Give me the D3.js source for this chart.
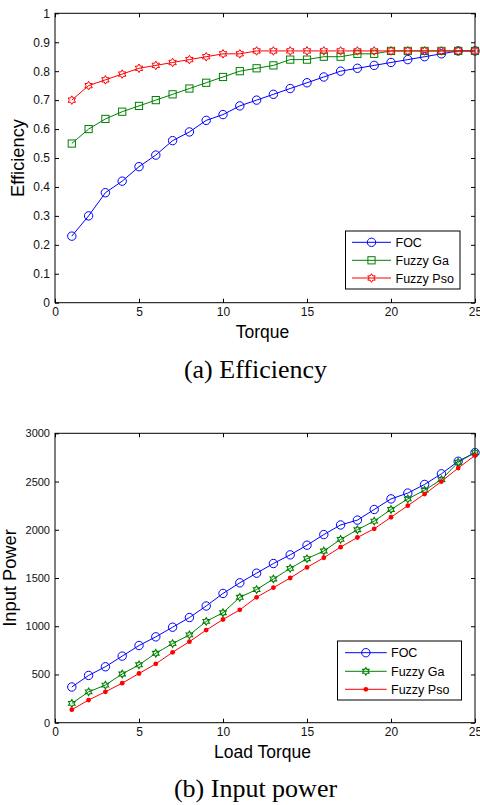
<!DOCTYPE html>
<html><head><meta charset="utf-8">
<script src="https://cdn.jsdelivr.net/npm/d3@7"></script>
<style>body{margin:0;background:#fff}svg{display:block}</style>
</head><body>
<script>
// ---------- data ----------
const torque = [1,2,3,4,5,6,7,8,9,10,11,12,13,14,15,16,17,18,19,20,21,22,23,24,25];
const effFOC = [0.23,0.30,0.38,0.42,0.47,0.51,0.56,0.59,0.63,0.65,0.68,0.70,0.72,0.74,0.76,0.78,0.80,0.81,0.82,0.83,0.84,0.85,0.86,0.87,0.87];
const effGA  = [0.55,0.60,0.635,0.66,0.68,0.70,0.72,0.74,0.76,0.78,0.80,0.81,0.82,0.84,0.84,0.85,0.85,0.86,0.86,0.87,0.87,0.87,0.87,0.87,0.87];
const effPSO = [0.70,0.75,0.77,0.79,0.81,0.82,0.83,0.84,0.85,0.86,0.86,0.87,0.87,0.87,0.87,0.87,0.87,0.87,0.87,0.87,0.87,0.87,0.87,0.87,0.87];
const powFOC = [370,490,580,690,800,890,990,1090,1210,1340,1450,1550,1650,1740,1840,1950,2050,2100,2210,2320,2380,2470,2580,2710,2800];
const powGA  = [200,320,390,505,600,720,820,910,1050,1140,1300,1380,1490,1600,1700,1780,1900,2000,2090,2210,2320,2410,2520,2700,2800];
const powPSO = [135,235,320,410,510,610,730,840,960,1070,1170,1300,1400,1500,1610,1710,1820,1920,2010,2130,2250,2370,2500,2640,2770];
const xTicks = [0,5,10,15,20,25];
const effTicks = [0,0.1,0.2,0.3,0.4,0.5,0.6,0.7,0.8,0.9,1];
const powTicks = [0,500,1000,1500,2000,2500,3000];
const seriesNames = ["FOC","Fuzzy Ga","Fuzzy Pso"];
const colors = ["#0000ff","#008000","#ff0000"];

// ---------- helpers ----------
const svg = d3.select("body").append("svg").attr("width",480).attr("height",805);
const FONT = "Liberation Sans, Arial, sans-serif";

function hexagramPath(R){
  const r = R/Math.sqrt(3);
  const pts = [];
  for(let i=0;i<12;i++){
    const a = -Math.PI/2 + i*Math.PI/6;
    const rad = i%2===0 ? R : r;
    pts.push([rad*Math.cos(a), rad*Math.sin(a)]);
  }
  return "M"+pts.map(p=>p[0].toFixed(2)+","+p[1].toFixed(2)).join("L")+"Z";
}
function drawMarker(g, type, color, x, y){
  if(type==="circle"){
    g.append("circle").attr("cx",x).attr("cy",y).attr("r",4.2).attr("fill","none").attr("stroke",color).attr("stroke-width",1);
  } else if(type==="square"){
    g.append("rect").attr("x",x-3.6).attr("y",y-3.6).attr("width",7.2).attr("height",7.2).attr("fill","none").attr("stroke",color).attr("stroke-width",1);
  } else if(type==="hex"){
    g.append("path").attr("transform",`translate(${x},${y})`).attr("d",hexagramPath(4.3)).attr("fill","none").attr("stroke",color).attr("stroke-width",1);
  } else if(type==="hexs"){
    g.append("path").attr("transform",`translate(${x},${y})`).attr("d",hexagramPath(3.8)).attr("fill","none").attr("stroke",color).attr("stroke-width",1.1);
  } else if(type==="dot"){
    g.append("circle").attr("cx",x).attr("cy",y).attr("r",2.4).attr("fill",color).attr("stroke","none");
  }
}

function panel(cfg){
  const {top,bottom,yDomain,yTicks,series,markers,xLabel,yLabel,yLabelX,caption,captionY,xLabelY,legend,yFmt,yTickFont} = cfg;
  const left=55, right=475;
  const x = d3.scaleLinear().domain([0,25]).range([left,right]);
  const y = d3.scaleLinear().domain(yDomain).range([bottom,top]);
  const g = svg.append("g");

  const styleAxis = (fs) => sel => {
    sel.selectAll("path.domain").remove();
    sel.selectAll("line").attr("stroke","#000");
    sel.selectAll("text").attr("font-family",FONT).attr("font-size",fs).attr("fill","#111");
  };
  g.append("g").attr("transform",`translate(0,${bottom})`)
    .call(d3.axisBottom(x).tickValues(xTicks).tickSize(-4).tickPadding(5).tickFormat(d3.format("d"))).call(styleAxis(12));
  g.append("g").attr("transform",`translate(0,${top})`)
    .call(d3.axisTop(x).tickValues(xTicks).tickSize(-4).tickFormat("")).call(styleAxis(12));
  g.append("g").attr("transform",`translate(${left},0)`)
    .call(d3.axisLeft(y).tickValues(yTicks).tickSize(-4).tickPadding(5).tickFormat(yFmt)).call(styleAxis(yTickFont));
  g.append("g").attr("transform",`translate(${right},0)`)
    .call(d3.axisRight(y).tickValues(yTicks).tickSize(-4).tickFormat("")).call(styleAxis(12));

  g.append("rect").attr("x",left).attr("y",top).attr("width",right-left).attr("height",bottom-top)
    .attr("fill","none").attr("stroke","#000").attr("stroke-width",1);

  const line = d3.line().x((d,i)=>x(torque[i])).y(d=>y(d));
  series.forEach((s,k)=>{
    const sg = g.append("g");
    sg.append("path").datum(s).attr("d",line).attr("fill","none").attr("stroke",colors[k]).attr("stroke-width",1);
    s.forEach((v,i)=>drawMarker(sg, markers[k], colors[k], x(torque[i]), y(v)));
  });

  // legend
  const L = legend;
  g.append("rect").attr("x",L.x0).attr("y",L.y0).attr("width",L.x1-L.x0).attr("height",L.y1-L.y0)
    .attr("fill","#fff").attr("stroke","#000").attr("stroke-width",1);
  seriesNames.forEach((n,k)=>{
    const ly = L.rows[k];
    g.append("line").attr("x1",L.lx0).attr("x2",L.lx1).attr("y1",ly).attr("y2",ly).attr("stroke",colors[k]).attr("stroke-width",1);
    drawMarker(g, markers[k], colors[k], (L.lx0+L.lx1)/2, ly);
    g.append("text").attr("x",L.tx).attr("y",ly).attr("dy","0.36em").attr("font-family",FONT).attr("font-size",12.5).attr("fill","#000").text(n);
  });

  g.append("text").attr("x",262.5).attr("y",xLabelY).attr("text-anchor","middle").attr("font-family",FONT).attr("font-size",17.5).attr("fill","#000").text(xLabel);
  g.append("text").attr("transform",`translate(${yLabelX},${(top+bottom)/2}) rotate(-90)`).attr("text-anchor","middle").attr("font-family",FONT).attr("font-size",18.3).attr("fill","#000").text(yLabel);
  g.append("text").attr("x",255.5).attr("y",captionY).attr("text-anchor","middle").attr("font-family","Liberation Serif, Times New Roman, serif").attr("font-size",26).attr("fill","#000").text(caption);
}

panel({top:13.3,bottom:302.7,yDomain:[0,1],yTicks:effTicks,yFmt:d3.format("~g"),yTickFont:12,
  series:[effFOC,effGA,effPSO],markers:["circle","square","hex"],
  xLabel:"Torque",yLabel:"Efficiency",yLabelX:24,xLabelY:338,caption:"(a) Efficiency",captionY:378,
  legend:{x0:345.5,x1:460,y0:231,y1:289,rows:[242.3,260.3,278],lx0:352,lx1:391,tx:395.5}});

panel({top:433.3,bottom:722.7,yDomain:[0,3000],yTicks:powTicks,yFmt:d3.format("d"),yTickFont:11,
  series:[powFOC,powGA,powPSO],markers:["circle","hexs","dot"],
  xLabel:"Load Torque",yLabel:"Input Power",yLabelX:16,xLabelY:758,caption:"(b) Input power",captionY:797,
  legend:{x0:337.5,x1:461.5,y0:641,y1:700,rows:[652.7,671.3,689.3],lx0:345,lx1:386.7,tx:391}});
</script>
</body></html>
